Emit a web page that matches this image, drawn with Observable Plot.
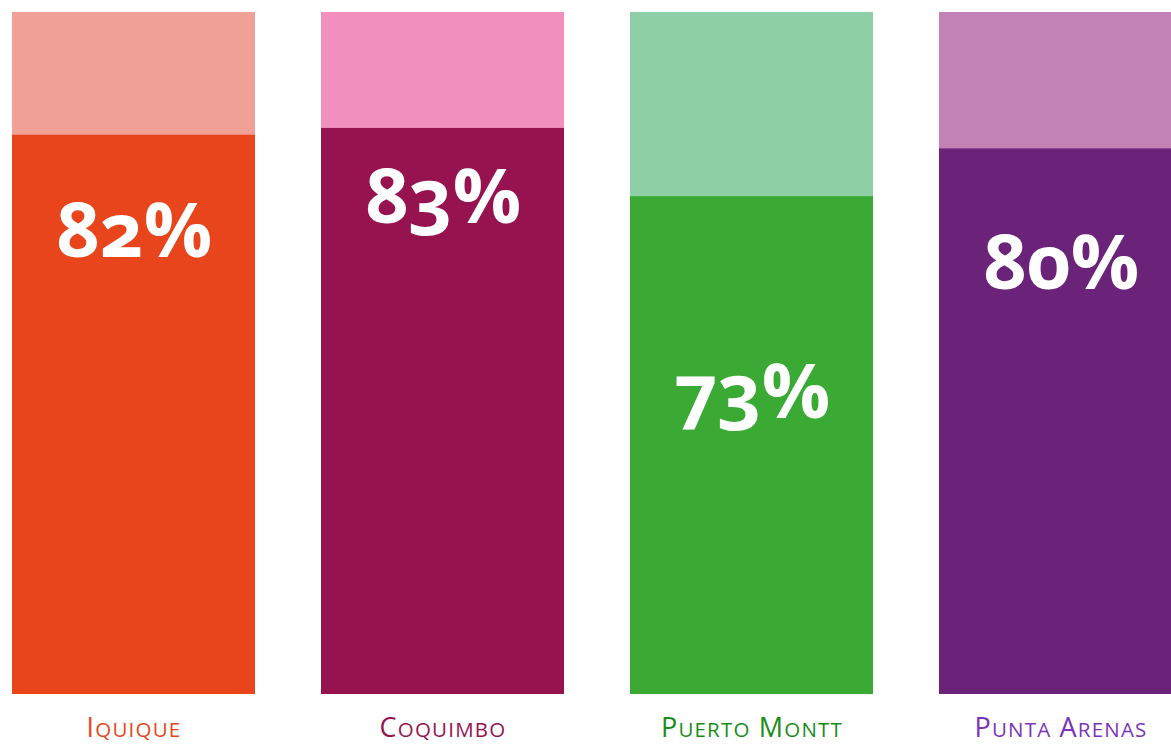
<!DOCTYPE html>
<html>
<head>
<meta charset="utf-8">
<script src="https://cdn.jsdelivr.net/npm/d3@7"></script>
<script src="https://cdn.jsdelivr.net/npm/@observablehq/plot@0.6"></script>
<style>
  html, body { margin: 0; padding: 0; background: #fff; overflow: hidden; }
  #chart svg { display: block; overflow: visible; }
  .pct text { font-variant-numeric: oldstyle-nums; font-feature-settings: "onum" 1; }
  .lbl text { letter-spacing: 1.2px; }
</style>
</head>
<body>
<div id="chart"></div>
<script>
// Data
const cities = ["Iquique", "Coquimbo", "Puerto Montt", "Punta Arenas"];
const shares = [82, 83, 73, 80];           // percent
const total = [100, 100, 100, 100];        // background (full) bar
// Where each percentage label sits (baseline, in percent units)
const labelBaseline = [64.1, 69.1, 40.6, 59.4];

// Colours
const darkColors = ["#e8451c", "#961350", "#3aaa35", "#6b237a"];
const lightColors = ["#f1a098", "#f28fbe", "#8ecfa8", "#c382b6"];
const nameColors = ["#e8451c", "#961350", "#1a8c1a", "#7b33b8"];

const rows = cities.map((c, i) => ({
  city: c, share: shares[i], total: total[i], at: labelBaseline[i],
  dark: darkColors[i], light: lightColors[i], name: nameColors[i]
}));

const chart = Plot.plot({
  width: 1171,
  height: 745,
  marginTop: 12,
  marginBottom: 51,
  marginLeft: 0,
  marginRight: 0,
  x: { domain: cities, range: [11, 1184], paddingInner: 0.213, paddingOuter: 0, axis: null },
  y: { domain: [0, 100], axis: null },
  marks: [
    Plot.barY(rows, { x: "city", y: "total", fill: d => d.light }),
    Plot.barY(rows, { x: "city", y: "share", fill: d => d.dark }),
    Plot.text(rows, {
      x: "city", y: "at", text: d => `${d.share}%`,
      fill: "white", fontSize: 76, fontWeight: "bold",
      fontFamily: "'Open Sans', 'Lato', sans-serif",
      lineAnchor: "bottom", textAnchor: "middle", className: "pct"
    }),
    Plot.text(rows, {
      x: "city", frameAnchor: "bottom", text: "city",
      fill: d => d.name, fontSize: 27, fontWeight: 500,
      fontFamily: "'Open Sans', 'Noto Sans', sans-serif",
      lineAnchor: "bottom", dy: 42, className: "lbl"
    })
  ]
});

// Small caps: first letter of each word full size, the rest as smaller capitals
d3.select(chart).selectAll(".lbl text").each(function () {
  const t = d3.select(this);
  const s = t.text();
  t.text(null);
  const words = s.split(" ");
  words.forEach((w, wi) => {
    t.append("tspan").attr("font-size", 27).text((wi > 0 ? " " : "") + w[0].toUpperCase());
    t.append("tspan").attr("font-size", 20.5).text(w.slice(1).toUpperCase());
  });
});

document.getElementById("chart").appendChild(chart);
</script>
</body>
</html>
